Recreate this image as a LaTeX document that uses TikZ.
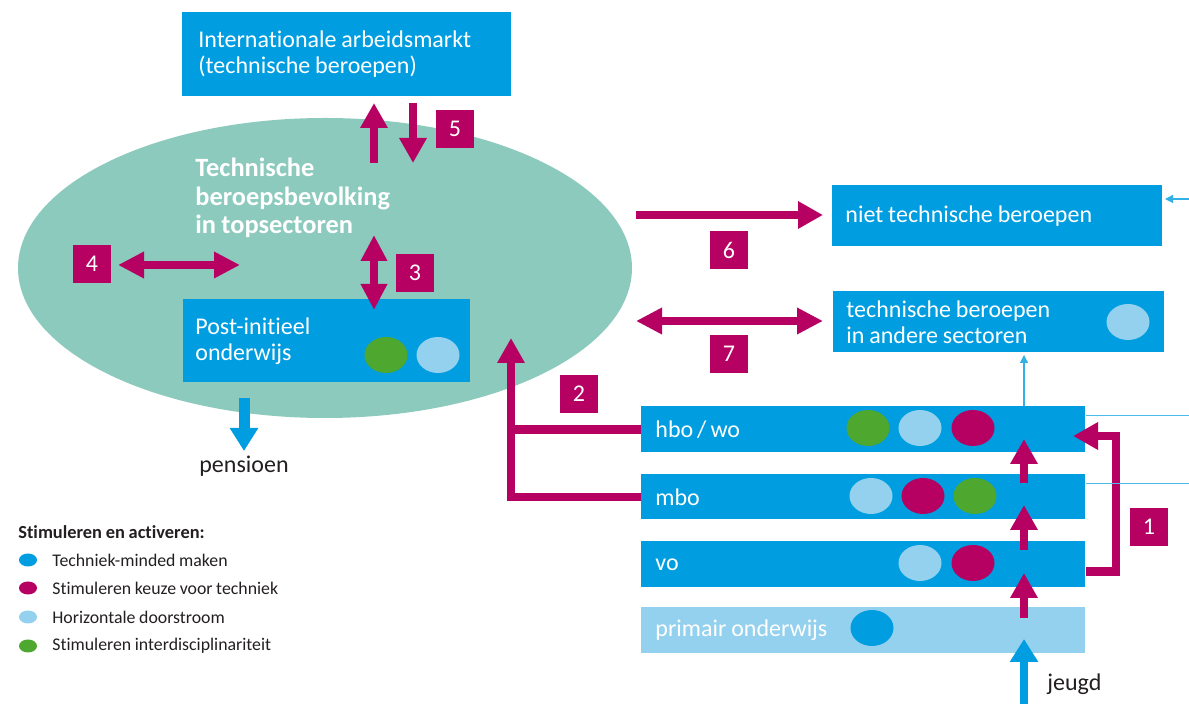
\documentclass[tikz,border=0pt]{standalone}
\usepackage{fontspec}
\setmainfont{Carlito}[WordSpace=0.9,Ligatures=NoCommon]
\usetikzlibrary{arrows.meta,shapes.geometric}
\definecolor{cblue}{RGB}{0,158,224}
\definecolor{cmag}{RGB}{182,0,98}
\definecolor{cgreen}{RGB}{78,167,46}
\definecolor{clight}{RGB}{148,209,238}
\definecolor{cteal}{RGB}{140,202,190}
\definecolor{ctext}{RGB}{35,31,32}
\begin{document}
\begin{tikzpicture}[x=0.5pt,y=-0.5pt,
  box/.style={fill=cblue,text=white,anchor=north west,inner ysep=0pt,align=flush left,font=\fontsize{12}{13}\selectfont},
  dot/.style={ellipse,minimum width=21.5pt,minimum height=18pt,inner sep=0pt},
  ldot/.style={ellipse,minimum width=9pt,minimum height=6.5pt,inner sep=0pt},
  lab/.style={fill=cmag,text=white,minimum size=19pt,inner sep=0pt,font=\fontsize{12}{12}\selectfont},
  ltext/.style={anchor=west,inner sep=0pt,text=ctext,font=\fontsize{8.9}{10}\selectfont},
  mline/.style={draw=cmag,line width=4.25pt},
  marrow/.style={draw=cmag,line width=4.25pt,-{Triangle[width=13pt,length=12.5pt]}},
  mdarrow/.style={draw=cmag,line width=4.25pt,{Triangle[width=12.5pt,length=13pt]}-{Triangle[width=12.5pt,length=13pt]}},
  barrow/.style={draw=cblue,line width=4.25pt,-{Triangle[width=13.5pt,length=11.5pt]}},
  tline/.style={draw=cblue!70,line width=0.6pt},
  tarrow/.style={draw=cblue!80,line width=0.6pt,-{Triangle[width=4pt,length=4pt]}}
]
\useasboundingbox (0,0) rectangle (1189,704);

% population ellipse
\node[ellipse,fill=cteal,minimum width=307pt,minimum height=150pt,inner sep=0pt] (pop) at (325,268) {};
\node[anchor=west,text=white,align=left,inner sep=0pt,font=\bfseries\fontsize{13.2}{14.25}\selectfont] (poptext) at (195,198) {Technische\\beroepsbevolking\\in topsectoren};

% boxes
\node[box,text width=148.5pt,inner xsep=8pt,minimum height=42pt] (intl) at (182,12) {Internationale arbeidsmarkt\\(technische beroepen)};
\node[box,text width=131.5pt,inner xsep=6pt,minimum height=41.5pt] (post) at (183,299) {Post-initieel\\onderwijs};
\node[box,text width=152pt,inner xsep=6.5pt,minimum height=30.5pt] (niet) at (832,185) {niet technische beroepen};
\node[box,text width=152.5pt,inner xsep=6.5pt,minimum height=30.5pt] (andere) at (833,291) {technische beroepen\\in andere sectoren};
\node[box,text width=208pt,inner xsep=7pt,minimum height=23pt] (hbo) at (641,406) {hbo\,/\,wo};
\node[box,text width=208pt,inner xsep=7pt,minimum height=22.5pt] (mbo) at (641,474) {mbo};
\node[box,text width=208pt,inner xsep=7pt,minimum height=23pt] (vo) at (641,541) {vo};
\node[box,fill=clight,text width=208pt,inner xsep=7pt,minimum height=23pt] (prim) at (641,607) {primair onderwijs};

% dots
\node[dot,fill=cgreen] (pd1) at (386,355) {};
\node[dot,fill=clight] (pd2) at (438,355) {};
\node[dot,fill=clight] (ad1) at (1128,322) {};
\node[dot,fill=cgreen] (hd1) at (868,428) {};
\node[dot,fill=clight] (hd2) at (920,428) {};
\node[dot,fill=cmag] (hd3) at (973,428) {};
\node[dot,fill=clight] (md1) at (871,496) {};
\node[dot,fill=cmag] (md2) at (923,496) {};
\node[dot,fill=cgreen] (md3) at (975,496) {};
\node[dot,fill=clight] (vd1) at (920,563) {};
\node[dot,fill=cmag] (vd2) at (973,563) {};
\node[dot,fill=cblue] (prd1) at (872,628) {};

% labels
\node[lab] (l1) at (1149,527) {1};
\node[lab] (l2) at (579,394) {2};
\node[lab] (l3) at (415,273) {3};
\node[lab] (l4) at (92,264) {4};
\node[lab] (l5) at (455,129) {5};
\node[lab] (l6) at (729,250) {6};
\node[lab] (l7) at (729,354) {7};

% coordinates
\coordinate (a5ua) at (374,163); \coordinate (a5ub) at (374,103);
\coordinate (a5da) at (413,103); \coordinate (a5db) at (413,163);
\coordinate (a3a) at (374,235); \coordinate (a3b) at (374,310);
\coordinate (a4a) at (118,265); \coordinate (a4b) at (240,265);
\coordinate (a6a) at (636,215); \coordinate (a6b) at (823,215);
\coordinate (a7a) at (636,321); \coordinate (a7b) at (823,321);
\coordinate (pena) at (244,398); \coordinate (penb) at (244,451);
\coordinate (jeua) at (1024,704); \coordinate (jeub) at (1024,639);
\coordinate (s1a) at (1024,483); \coordinate (s1b) at (1024,439);
\coordinate (s2a) at (1024,550); \coordinate (s2b) at (1024,505);
\coordinate (s3a) at (1024,618); \coordinate (s3b) at (1024,573);
\coordinate (a2top) at (511,338);
\coordinate (a1c) at (1116,436); \coordinate (a1t) at (1073,436);
\coordinate (rin) at (1189,199); \coordinate (rint) at (1165,199);
\coordinate (aup) at (1024,355);
\coordinate (redge) at (1189,0);

% arrows
\draw[marrow] (a5ua) -- (a5ub);
\draw[marrow] (a5da) -- (a5db);
\draw[mdarrow] (a3a) -- (a3b);
\draw[mdarrow] (a4a) -- (a4b);
\draw[marrow] (a6a) -- (a6b);
\draw[mdarrow] (a7a) -- (a7b);
\draw[barrow,line width=5.5pt] (pena) -- (penb);
\draw[barrow] (jeua) -- (jeub);
\draw[marrow] (s1a) -- (s1b);
\draw[marrow] (s2a) -- (s2b);
\draw[marrow] (s3a) -- (s3b);
\draw[marrow] (mbo.west) -| (a2top);
\draw[mline] (hbo.west) -- (hbo.west -| a2top);
\draw[marrow] ([yshift=-3.5pt]vo.east) -| (a1c) -- (a1t);
\draw[tarrow] (rin) -- (rint);
\draw[tarrow] (hbo.north -| aup) -- (aup);
\draw[tline] ([yshift=7pt]hbo.east) -- ([yshift=7pt]hbo.east -| redge);
\draw[tline] ([yshift=6.75pt]mbo.east) -- ([yshift=6.75pt]mbo.east -| redge);

% free texts
\node[text=ctext,font=\fontsize{12}{12}\selectfont,inner sep=0pt] (pens) at (244,466) {pensioen};
\node[text=ctext,font=\fontsize{12}{12}\selectfont,inner sep=0pt,anchor=west] (jeugd) at (1047,684) {jeugd};

% legend
\node[ltext,font=\bfseries\fontsize{9.2}{10}\selectfont] (legh) at (18,532) {Stimuleren en activeren:};
\node[ldot,fill=cblue] (lg1) at (28,560) {};
\node[ldot,fill=cmag] (lg2) at (28,588) {};
\node[ldot,fill=clight] (lg3) at (28,617) {};
\node[ldot,fill=cgreen] (lg4) at (28,646) {};
\node[ltext] (lt1) at (52,560) {Techniek-minded maken};
\node[ltext] (lt2) at (52,588) {Stimuleren keuze voor techniek};
\node[ltext] (lt3) at (52,617) {Horizontale doorstroom};
\node[ltext] (lt4) at (52,646) {Stimuleren interdisciplinariteit};
\end{tikzpicture}
\end{document}
